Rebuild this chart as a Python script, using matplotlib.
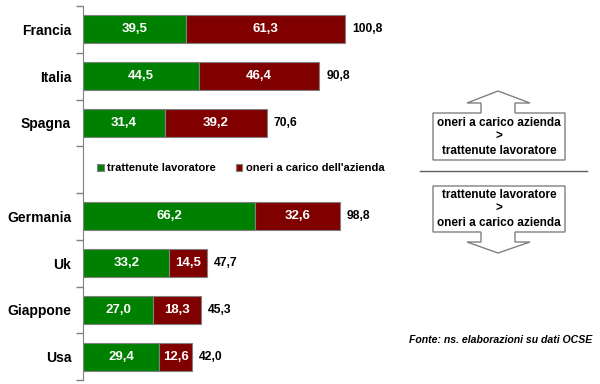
import matplotlib.pyplot as plt
from matplotlib.patches import Polygon
from matplotlib.lines import Line2D

plt.rcParams['font.family'] = ['Liberation Sans', 'DejaVu Sans']

# dati (None = riga vuota per la legenda)
paesi = ["Francia", "Italia", "Spagna", None, "Germania", "Uk", "Giappone", "Usa"]
trattenute = [39.5, 44.5, 31.4, None, 66.2, 33.2, 27.0, 29.4]
oneri = [61.3, 46.4, 39.2, None, 32.6, 14.5, 18.3, 12.6]
totali = [100.8, 90.8, 70.6, None, 98.8, 47.7, 45.3, 42.0]

verde = "#008000"
rosso = "#800000"

W, H = 600, 384
fig = plt.figure(figsize=(6, 3.84), dpi=100)

def fx(x):
    return x / W

def fy(y):
    return 1 - y / H

# asse: sinistra a 83 px, scala 2.6 px per unita
ax = fig.add_axes([fx(83), fy(380), 1 - fx(83), (380 - 6) / H])
ax.set_xlim(0, (W - 83) / 2.6)
ax.set_ylim(7.5, -0.5)

pos = [i for i, p in enumerate(paesi) if p is not None]
tr = [trattenute[i] for i in pos]
on = [oneri[i] for i in pos]

ax.barh(pos, tr, height=0.6, color=verde, edgecolor="#808080", linewidth=0.8,
        label="trattenute lavoratore")
ax.barh(pos, on, left=tr, height=0.6, color=rosso, edgecolor="#808080", linewidth=0.8,
        label="oneri a carico dell'azienda")

for i in pos:
    ax.text(trattenute[i] / 2, i, f"{trattenute[i]:.1f}".replace(".", ","),
            ha="center", va="center", color="white", fontsize=9.5, fontweight="bold")
    ax.text(trattenute[i] + oneri[i] / 2, i, f"{oneri[i]:.1f}".replace(".", ","),
            ha="center", va="center", color="white", fontsize=9.5, fontweight="bold")
    ax.text(trattenute[i] + oneri[i] + 2.7, i, f"{totali[i]:.1f}".replace(".", ","),
            ha="left", va="center", color="black", fontsize=8.7, fontweight="bold")

ax.set_yticks(pos)
ax.set_yticklabels([paesi[i] for i in pos], fontsize=10, fontweight="bold")
ax.tick_params(axis="y", which="major", length=0, pad=8.5)
ax.set_yticks([i - 0.5 for i in range(9)], minor=True)
ax.tick_params(axis="y", which="minor", length=5, color="#808080", width=1)
ax.set_xticks([])
for s in ["top", "right", "bottom"]:
    ax.spines[s].set_visible(False)
ax.spines["left"].set_color("#808080")

ax.legend(loc="center left", bbox_to_anchor=(fx(87), fy(168)),
          bbox_transform=fig.transFigure, ncol=2, frameon=False,
          prop={"size": 8, "weight": "bold"}, handlelength=0.6, handleheight=0.6,
          handletextpad=0.3, columnspacing=1.8)

# frecce a destra
grigio = "#808080"
su = [(433, 160), (433, 113), (481, 113), (481, 103), (467, 103), (498, 91),
      (530, 103), (515, 103), (515, 113), (565, 113), (565, 160)]
giu = [(433, 186), (433, 232), (481, 232), (481, 242), (467, 242), (498, 253),
       (530, 242), (515, 242), (515, 232), (565, 232), (565, 186)]
for pts in (su, giu):
    fig.add_artist(Polygon([(fx(x), fy(y)) for x, y in pts], closed=True,
                           facecolor="white", edgecolor=grigio, linewidth=1,
                           transform=fig.transFigure))

fig.text(fx(499), fy(137), "oneri a carico azienda\n>\ntrattenute lavoratore",
         ha="center", va="center", fontsize=8.5, fontweight="bold", linespacing=1.25)
fig.text(fx(499), fy(209), "trattenute lavoratore\n>\noneri a carico azienda",
         ha="center", va="center", fontsize=8.5, fontweight="bold", linespacing=1.25)

fig.add_artist(Line2D([fx(420), fx(587)], [fy(171), fy(171)], color="#606060",
                      linewidth=1, transform=fig.transFigure))

fig.text(fx(592), fy(340), "Fonte: ns. elaborazioni su dati OCSE", ha="right", va="center",
         fontsize=7.6, fontweight="bold", fontstyle="italic")

fig.savefig("out.png", dpi=100)
